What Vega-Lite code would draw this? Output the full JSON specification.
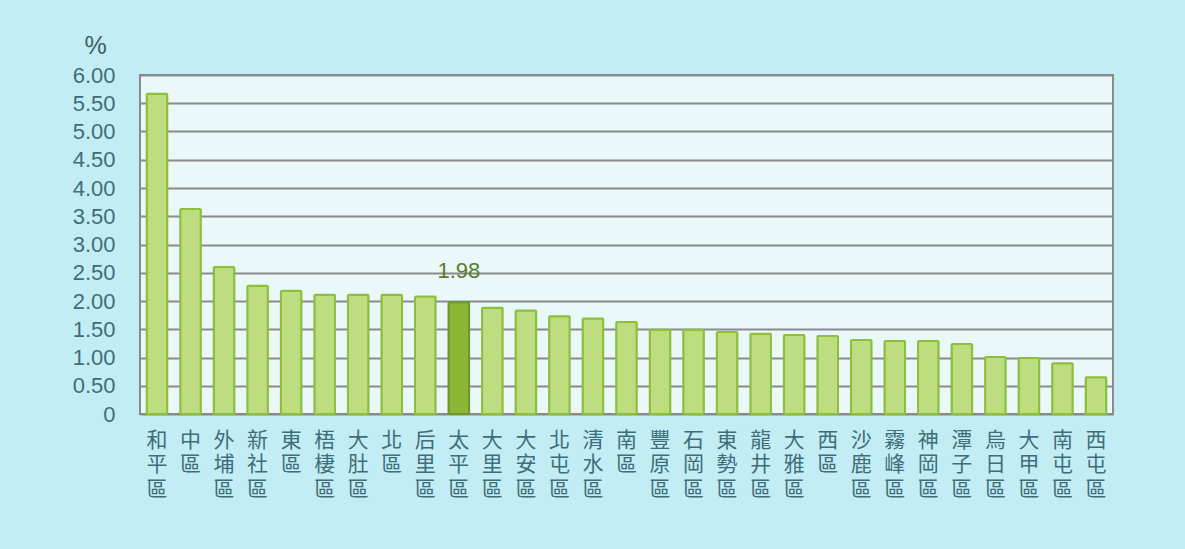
{
  "$schema": "https://vega.github.io/schema/vega-lite/v6.json",
  "width": 973,
  "height": 339,
  "autosize": {"type": "none"},
  "padding": {"left": 140, "top": 75, "right": 72, "bottom": 135},
  "background": "#C3EDF4",
  "config": {
    "view": {"fill": "#EAF8FA", "stroke": "#8A8A8A", "strokeWidth": 2},
    "font": "Noto Sans CJK TC"
  },
  "data": {
    "values": [
      {"district": "和平區", "value": 5.67},
      {"district": "中區", "value": 3.63},
      {"district": "外埔區", "value": 2.60},
      {"district": "新社區", "value": 2.27},
      {"district": "東區", "value": 2.18},
      {"district": "梧棲區", "value": 2.11},
      {"district": "大肚區", "value": 2.11},
      {"district": "北區", "value": 2.11},
      {"district": "后里區", "value": 2.08},
      {"district": "太平區", "value": 1.98},
      {"district": "大里區", "value": 1.88},
      {"district": "大安區", "value": 1.83},
      {"district": "北屯區", "value": 1.73},
      {"district": "清水區", "value": 1.69},
      {"district": "南區", "value": 1.63},
      {"district": "豐原區", "value": 1.49},
      {"district": "石岡區", "value": 1.49},
      {"district": "東勢區", "value": 1.45},
      {"district": "龍井區", "value": 1.42},
      {"district": "大雅區", "value": 1.40},
      {"district": "西區", "value": 1.38},
      {"district": "沙鹿區", "value": 1.31},
      {"district": "霧峰區", "value": 1.29},
      {"district": "神岡區", "value": 1.29},
      {"district": "潭子區", "value": 1.24},
      {"district": "烏日區", "value": 1.01},
      {"district": "大甲區", "value": 0.99},
      {"district": "南屯區", "value": 0.90},
      {"district": "西屯區", "value": 0.65}
    ]
  },
  "encoding": {
    "x": {
      "field": "district",
      "type": "nominal",
      "sort": null,
      "scale": {"paddingInner": 0.386, "paddingOuter": 0.2},
      "axis": {
        "title": null,
        "labelAngle": 0,
        "labelExpr": "split(datum.label, '')",
        "labelFontSize": 21,
        "labelLineHeight": 24.5,
        "labelColor": "#3E6E79",
        "labelPadding": 15,
        "labelBaseline": "top",
        "ticks": false,
        "domain": false,
        "labelFont": "Noto Sans CJK TC"
      }
    },
    "y": {
      "field": "value",
      "type": "quantitative",
      "scale": {"domain": [0, 6]},
      "axis": {
        "values": [0, 0.5, 1, 1.5, 2, 2.5, 3, 3.5, 4, 4.5, 5, 5.5, 6],
        "labelExpr": "datum.value == 0 ? '0' : format(datum.value, '.2f')",
        "labelFontSize": 22,
        "labelColor": "#3E6E79",
        "labelFont": "Liberation Sans",
        "labelPadding": 25,
        "ticks": false,
        "domain": false,
        "grid": true,
        "gridColor": "#8A8A8A",
        "gridWidth": 2,
        "gridOpacity": 1,
        "title": "%",
        "titleAngle": 0,
        "titleX": -45,
        "titleY": -30,
        "titleAlign": "center",
        "titleBaseline": "middle",
        "titleFontSize": 25,
        "titleFontWeight": "normal",
        "titleColor": "#3D5F66",
        "titleFont": "Liberation Sans"
      }
    }
  },
  "layer": [
    {
      "mark": {"type": "bar", "strokeWidth": 2, "cornerRadius": 1},
      "encoding": {
        "fill": {
          "condition": {"test": "datum.district == '太平區'", "value": "#8DB635"},
          "value": "#BEDC80"
        },
        "stroke": {
          "condition": {"test": "datum.district == '太平區'", "value": "#6C9A2A"},
          "value": "#8CBF3A"
        }
      }
    },
    {
      "transform": [{"filter": "datum.district == '太平區'"}],
      "mark": {"type": "text", "baseline": "middle", "dy": -31, "fontSize": 22, "color": "#5B7B2D", "font": "Liberation Sans"},
      "encoding": {
        "text": {"field": "value", "type": "quantitative", "format": ".2f"}
      }
    }
  ]
}
